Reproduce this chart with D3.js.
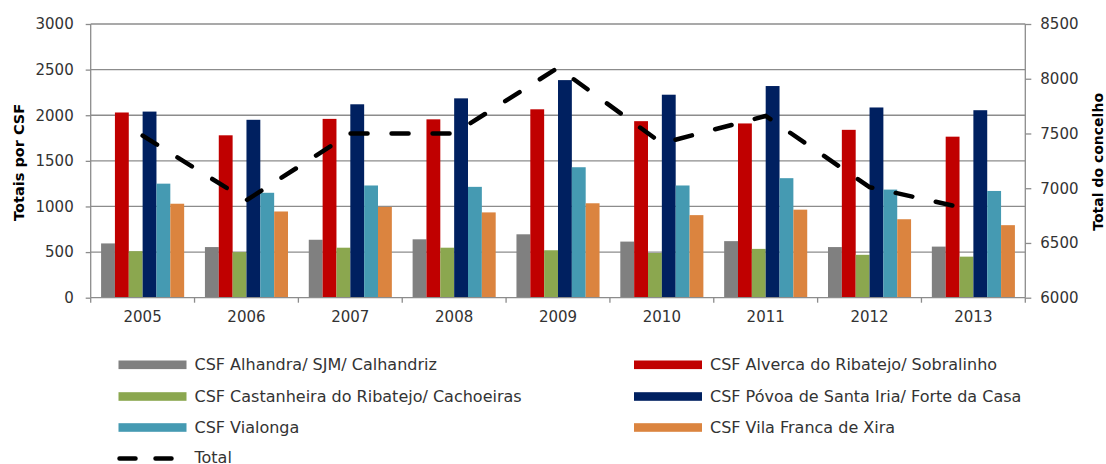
<!DOCTYPE html>
<html>
<head>
<meta charset="utf-8">
<script src="https://cdn.jsdelivr.net/npm/d3@7"></script>
<style>
  html, body { margin: 0; padding: 0; background: #fff; }
  svg { display: block; font-family: "DejaVu Sans", Verdana, sans-serif; }
</style>
</head>
<body>
<svg id="chart" width="1106" height="464"></svg>
<script>
// Anos
const years = ["2005", "2006", "2007", "2008", "2009", "2010", "2011", "2012", "2013"];

// Séries por CSF
const seriesNames = [
  "CSF Alhandra/ SJM/ Calhandriz",
  "CSF Alverca do Ribatejo/ Sobralinho",
  "CSF Castanheira do Ribatejo/ Cachoeiras",
  "CSF Póvoa de Santa Iria/ Forte da Casa",
  "CSF Vialonga",
  "CSF Vila Franca de Xira"
];
const alhandra    = [595, 555, 635, 640, 695, 615, 620, 555, 560];
const alverca     = [2030, 1780, 1960, 1955, 2065, 1935, 1910, 1840, 1765];
const castanheira = [510, 500, 548, 548, 520, 490, 535, 470, 450];
const povoa       = [2040, 1950, 2120, 2185, 2385, 2225, 2320, 2085, 2055];
const vialonga    = [1250, 1150, 1230, 1215, 1430, 1230, 1310, 1185, 1170];
const vilaFranca  = [1030, 945, 995, 935, 1035, 905, 965, 860, 795];

// Total do concelho (eixo secundário)
const totalName = "Total";
const total = [7480, 6890, 7500, 7500, 8100, 7410, 7660, 7010, 6800];

// Marcas dos eixos
const leftTicks = [0, 500, 1000, 1500, 2000, 2500, 3000];
const rightTicks = [6000, 6500, 7000, 7500, 8000, 8500];

const seriesValues = [alhandra, alverca, castanheira, povoa, vialonga, vilaFranca];
const colors = ["#808080", "#C00000", "#8BA74F", "#002060", "#459AB2", "#DB843F"];

const svg = d3.select("#chart");
const plotLeft = 90.7, plotRight = 1025.3, plotTop = 24, plotBottom = 297.7;
const gridColor = "#8c8c8c";
const textColor = "#333333";

const x = d3.scaleBand().domain(years).range([plotLeft, plotRight]).padding(0);
const xs = d3.scaleBand().domain(d3.range(seriesNames.length))
  .range([0, x.bandwidth()]).paddingInner(0).paddingOuter(0.75);
const y = d3.scaleLinear().domain([0, 3000]).range([plotBottom, plotTop]);
const y2 = d3.scaleLinear().domain([6000, 8500]).range([plotBottom, plotTop]);

// Linhas de grelha
svg.append("g").selectAll("line").data(leftTicks.slice(1)).join("line")
  .attr("x1", plotLeft).attr("x2", plotRight)
  .attr("y1", d => y(d)).attr("y2", d => y(d))
  .attr("stroke", gridColor).attr("stroke-width", 1.3);

// Barras
const groups = svg.append("g").selectAll("g").data(seriesValues).join("g")
  .attr("fill", (d, i) => colors[i]);
groups.each(function(vals, si) {
  d3.select(this).selectAll("rect").data(vals).join("rect")
    .attr("x", (d, i) => x(years[i]) + xs(si))
    .attr("width", xs.bandwidth())
    .attr("y", d => y(d))
    .attr("height", d => y(0) - y(d));
});

// Eixo esquerdo
const axL = svg.append("g").attr("transform", `translate(${plotLeft},0)`)
  .call(d3.axisLeft(y).tickValues(leftTicks).tickSize(5).tickPadding(12).tickFormat(d3.format("d")));
// Eixo direito
const axR = svg.append("g").attr("transform", `translate(${plotRight},0)`)
  .call(d3.axisRight(y2).tickValues(rightTicks).tickSize(6).tickPadding(9).tickFormat(d3.format("d")));
// Eixo das categorias
const catTicks = years.map(yr => x(yr)).concat([plotRight]);
const axB = svg.append("g").attr("transform", `translate(0,${plotBottom})`);
axB.append("line").attr("x1", plotLeft).attr("x2", plotRight).attr("stroke", gridColor).attr("stroke-width", 1.3);
axB.selectAll("line.tk").data(catTicks).join("line").attr("class", "tk")
  .attr("x1", d => d).attr("x2", d => d).attr("y1", 0).attr("y2", 5)
  .attr("stroke", gridColor).attr("stroke-width", 1.3);
axB.selectAll("text").data(years).join("text")
  .attr("x", d => x(d) + x.bandwidth() / 2).attr("y", 24.5)
  .attr("text-anchor", "middle").attr("font-size", 15).attr("fill", textColor)
  .text(d => d);

[axL, axR].forEach(ax => {
  ax.select(".domain").attr("stroke", gridColor).attr("stroke-width", 1.3);
  ax.selectAll(".tick line").attr("stroke", gridColor).attr("stroke-width", 1.3);
  ax.selectAll(".tick text").attr("font-size", 15).attr("fill", textColor)
    .attr("font-family", "DejaVu Sans, sans-serif");
});
axL.select(".domain").attr("d", `M0,${plotBottom}V${plotTop}`);
axR.select(".domain").attr("d", `M0,${plotBottom}V${plotTop}`);

// Linha do total
const line = d3.line()
  .x((d, i) => x(years[i]) + x.bandwidth() / 2)
  .y(d => y2(d));
svg.append("path").datum(total)
  .attr("d", line).attr("fill", "none")
  .attr("stroke", "#000").attr("stroke-width", 4.5)
  .attr("stroke-linecap", "round").attr("stroke-dasharray", "17 24");

// Títulos dos eixos
svg.append("text")
  .attr("transform", `translate(24,${(plotTop + plotBottom) / 2 + 1.5}) rotate(-90)`)
  .attr("text-anchor", "middle").attr("font-size", 14.5).attr("font-weight", "bold")
  .attr("fill", "#000").text("Totais por CSF");
svg.append("text")
  .attr("transform", `translate(1103,${(plotTop + plotBottom) / 2 + 1}) rotate(-90)`)
  .attr("text-anchor", "middle").attr("font-size", 14).attr("font-weight", "bold")
  .attr("fill", "#000").text("Total do concelho");

// Legenda
const legendCols = [118.5, 634];
const legendRows = [364.8, 396.5, 427.5, 458.5];
const legend = svg.append("g");
seriesNames.forEach((name, i) => {
  const lx = legendCols[i % 2], ly = legendRows[Math.floor(i / 2)];
  legend.append("rect").attr("x", lx).attr("y", ly - 4.3).attr("width", 68).attr("height", 8.6)
    .attr("fill", colors[i]);
  legend.append("text").attr("x", lx + 76).attr("y", ly).attr("dy", "0.35em")
    .attr("font-size", 16).attr("fill", textColor).text(name);
});
{
  const lx = legendCols[0], ly = legendRows[3];
  legend.append("line").attr("x1", lx + 1).attr("x2", lx + 56).attr("y1", ly).attr("y2", ly)
    .attr("stroke", "#000").attr("stroke-width", 4.5).attr("stroke-linecap", "round")
    .attr("stroke-dasharray", "16 20");
  legend.append("text").attr("x", lx + 76).attr("y", ly - 1.5).attr("dy", "0.35em")
    .attr("font-size", 16).attr("fill", textColor).text(totalName);
}
</script>
</body>
</html>
